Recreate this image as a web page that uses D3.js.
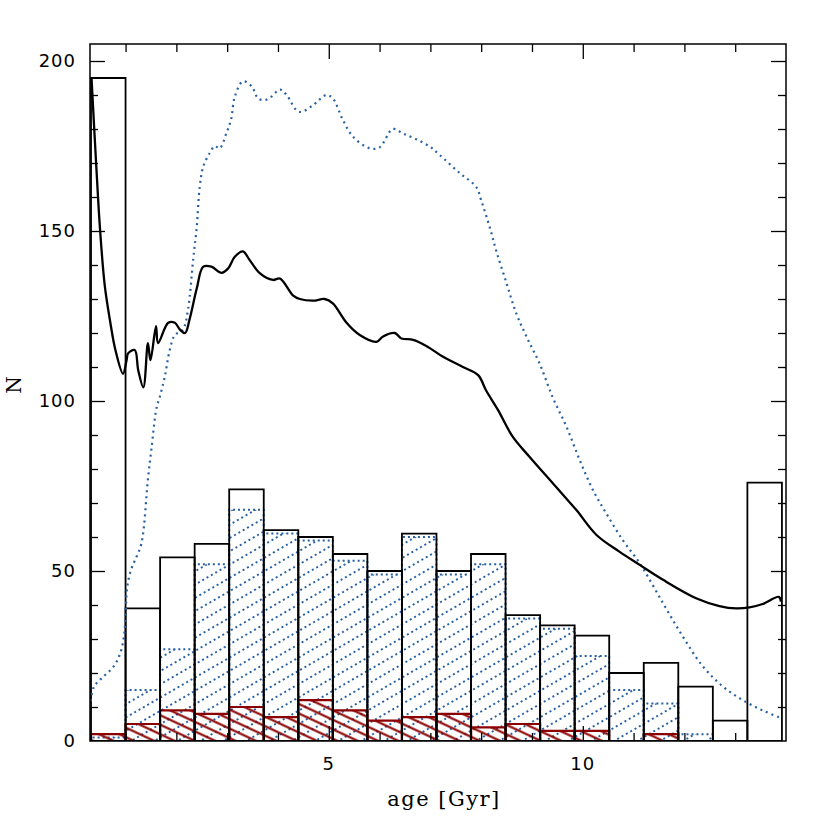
<!DOCTYPE html>
<html>
<head>
<meta charset="utf-8">
<script src="https://cdn.jsdelivr.net/npm/d3@7"></script>
<style>
  body { margin: 0; background: #fff; }
  text { fill: #000; }
</style>
</head>
<body>
<div id="chart"></div>
<script>
// bin edges in Gyr (first bin is cut at the left axis)
const binEdges = [0.32, 1.0, 1.68, 2.36, 3.04, 3.72, 4.40, 5.08, 5.76, 6.44, 7.12,
                  7.80, 8.48, 9.16, 9.84, 10.52, 11.20, 11.88, 12.56, 13.24, 13.92];
const totalCounts = [195, 39, 54, 58, 74, 62, 60, 55, 50, 61, 50, 55, 37, 34, 31, 20, 23, 16, 6, 76];
const blueCounts  = [1, 15, 27, 52, 68, 61, 59, 53, 49, 60, 49, 52, 36, 33, 25, 15, 11, 2, 0, 0];
const redCounts   = [2, 5, 9, 8, 10, 7, 12, 9, 6, 7, 8, 4, 5, 3, 3, 0, 2, 0, 0, 0];

// model curves [age, N]
const blackCurve = [
  [0.33, 195], [0.42, 170], [0.50, 150], [0.59, 134], [0.69, 124], [0.80, 115],
  [0.95, 108], [1.02, 112], [1.05, 114], [1.18, 115], [1.25, 109], [1.35, 104], [1.44, 117],
  [1.49, 112], [1.60, 122], [1.64, 117], [1.84, 123], [1.97, 123], [2.07, 121], [2.17, 120],
  [2.26, 124], [2.40, 133], [2.53, 139.5], [2.69, 139.5], [2.89, 137.7], [3.02, 139],
  [3.15, 142.4], [3.31, 144], [3.44, 141.5], [3.64, 137.6], [3.90, 135.6], [4.04, 136],
  [4.30, 131], [4.43, 130], [4.69, 129.5], [4.92, 130], [5.08, 128.7], [5.35, 123],
  [5.61, 119.4], [5.94, 117.4], [6.07, 119], [6.30, 120], [6.43, 118.4], [6.66, 118],
  [6.92, 116.2], [7.25, 113], [7.64, 110], [7.94, 107.6], [8.10, 103], [8.33, 97.4],
  [8.62, 89.5], [8.95, 83.6], [9.41, 75.8], [9.87, 68], [10.27, 60.6], [10.72, 55.7],
  [11.12, 51.8], [11.58, 47.4], [12.23, 42], [12.69, 39.7], [13.02, 39], [13.28, 39.3],
  [13.54, 40.3], [13.86, 42.4], [13.90, 41]
];
const blueCurve = [
  [0.30, 10], [0.38, 16], [0.57, 19], [0.77, 22], [0.90, 26], [0.97, 31], [1.00, 37],
  [1.03, 45], [1.10, 50], [1.18, 53], [1.31, 58], [1.44, 77], [1.51, 86], [1.61, 98],
  [1.67, 101], [1.77, 107], [1.87, 115], [1.97, 119.4], [2.13, 121], [2.23, 127],
  [2.33, 141.5], [2.40, 151], [2.46, 163], [2.53, 169], [2.66, 173], [2.76, 175],
  [2.85, 174.3], [2.99, 179], [3.08, 183], [3.15, 189.5], [3.31, 194], [3.48, 192.6],
  [3.61, 189], [3.74, 188.5], [3.87, 189.5], [4.04, 191.6], [4.17, 190], [4.36, 185.6],
  [4.46, 185], [4.69, 187], [4.95, 190], [5.08, 189], [5.28, 182.6], [5.48, 177.7],
  [5.81, 174.3], [6.00, 174.6], [6.26, 180], [6.46, 178.7], [6.72, 177], [6.99, 174.8],
  [7.18, 172.4], [7.58, 167], [7.90, 163], [8.00, 159], [8.17, 151], [8.30, 144],
  [8.50, 134.6], [8.69, 125.8], [8.89, 119], [9.15, 111], [9.41, 101], [9.68, 92.4],
  [9.94, 82.6], [10.20, 73.8], [10.46, 67], [10.79, 59], [11.12, 52.3], [11.58, 40.5],
  [11.97, 30.7], [12.36, 22], [12.76, 16], [13.15, 12], [13.54, 9], [13.91, 6.7]
];

const xTicks = [5, 10];
const yTicks = [0, 50, 100, 150, 200];

const blue = "#2760a3";
const red = "#8b0000";

const width = 830, height = 830;
const margin = {top: 44, right: 44, bottom: 89, left: 90};

const svg = d3.select("#chart")
    .append("svg")
    .attr("width", width)
    .attr("height", height);

const x = d3.scaleLinear().domain([0.3, 14]).range([margin.left, width - margin.right]);
const y = d3.scaleLinear().domain([0, 205]).range([height - margin.bottom, margin.top]);

const defs = svg.append("defs");

defs.append("clipPath").attr("id", "plot-clip")
    .append("rect")
    .attr("x", x.range()[0]).attr("y", y.range()[1])
    .attr("width", x.range()[1] - x.range()[0])
    .attr("height", y.range()[0] - y.range()[1]);

// dotted hatch rising to the right
const bluePat = defs.append("pattern")
    .attr("id", "blue-hatch")
    .attr("patternUnits", "userSpaceOnUse")
    .attr("width", 40).attr("height", 11.5)
    .attr("patternTransform", "rotate(-30)");
bluePat.append("line")
    .attr("x1", 0).attr("y1", 5.75).attr("x2", 40).attr("y2", 5.75)
    .attr("stroke", blue).attr("stroke-width", 2)
    .attr("stroke-dasharray", "2 3");

// solid hatch falling to the right
const redPat = defs.append("pattern")
    .attr("id", "red-hatch")
    .attr("patternUnits", "userSpaceOnUse")
    .attr("width", 20).attr("height", 8.6)
    .attr("patternTransform", "rotate(25)");
redPat.append("line")
    .attr("x1", 0).attr("y1", 4.3).attr("x2", 20).attr("y2", 4.3)
    .attr("stroke", red).attr("stroke-width", 2.1);

function binPath(d, i) {
    const x0 = x(binEdges[i]), x1 = x(binEdges[i + 1]);
    return `M${x0},${y(0)}L${x0},${y(d)}L${x1},${y(d)}L${x1},${y(0)}Z`;
}

const plot = svg.append("g").attr("clip-path", "url(#plot-clip)");

// blue histogram
plot.append("g").selectAll("path")
    .data(blueCounts)
    .enter()
    .append("path")
    .attr("d", binPath)
    .attr("fill", d => d > 0 ? "url(#blue-hatch)" : "none")
    .attr("stroke", blue)
    .attr("stroke-width", 2)
    .attr("stroke-dasharray", "2 3");

// red histogram
plot.append("g").selectAll("path")
    .data(redCounts)
    .enter()
    .append("path")
    .attr("d", binPath)
    .attr("fill", "url(#red-hatch)")
    .attr("stroke", red)
    .attr("stroke-width", 2.2);

// total histogram
plot.append("g").selectAll("path")
    .data(totalCounts)
    .enter()
    .append("path")
    .attr("d", binPath)
    .attr("fill", "none")
    .attr("stroke", "#000")
    .attr("stroke-width", 1.8);

const line = d3.line()
    .x(d => x(d[0]))
    .y(d => y(d[1]))
    .curve(d3.curveCatmullRom.alpha(0.5));

plot.append("path")
    .datum(blueCurve)
    .attr("d", line)
    .attr("fill", "none")
    .attr("stroke", blue)
    .attr("stroke-width", 2.2)
    .attr("stroke-dasharray", "2 4");

plot.append("path")
    .datum(blackCurve)
    .attr("d", line)
    .attr("fill", "none")
    .attr("stroke", "#000")
    .attr("stroke-width", 2.3);

// frame and ticks (inward, on all four sides)
svg.append("rect")
    .attr("x", x.range()[0]).attr("y", y.range()[1])
    .attr("width", x.range()[1] - x.range()[0])
    .attr("height", y.range()[0] - y.range()[1])
    .attr("fill", "none")
    .attr("stroke", "#000")
    .attr("stroke-width", 1.5);

const tickFmt = () => "";
const axes = [
    d3.axisBottom(x).tickValues(d3.range(1, 14, 1)),
    d3.axisTop(x).tickValues(d3.range(1, 14, 1)),
    d3.axisLeft(y).tickValues(d3.range(10, 201, 10)),
    d3.axisRight(y).tickValues(d3.range(10, 201, 10))
];
const pos = [
    `translate(0,${y(0)})`, `translate(0,${y.range()[1]})`,
    `translate(${x.range()[0]},0)`, `translate(${x.range()[1]},0)`
];
axes.forEach((ax, k) => {
    const g = svg.append("g")
        .attr("transform", pos[k])
        .call(ax.tickFormat(tickFmt).tickSizeOuter(0));
    g.select(".domain").remove();
    g.selectAll(".tick line")
        .attr("stroke", "#000")
        .attr("stroke-width", 1.3)
        .each(function(d) {
            const major = k < 2 ? d % 5 === 0 : d % 50 === 0;
            const len = major ? 15 : 8;
            const el = d3.select(this);
            if (k === 0) el.attr("y2", -len);
            if (k === 1) el.attr("y2", len);
            if (k === 2) el.attr("x2", len);
            if (k === 3) el.attr("x2", -len);
        });
});

svg.append("g").selectAll("text")
    .data(xTicks)
    .enter()
    .append("text")
    .attr("x", d => x(d))
    .attr("y", y(0) + 29)
    .attr("text-anchor", "middle")
    .style("font-family", "DejaVu Sans")
    .style("font-size", "18px")
    .style("letter-spacing", "1px")
    .text(d => d);

svg.append("g").selectAll("text")
    .data(yTicks)
    .enter()
    .append("text")
    .attr("x", x.range()[0] - 14)
    .attr("y", d => y(d))
    .attr("dy", "0.36em")
    .attr("text-anchor", "end")
    .style("font-family", "DejaVu Sans")
    .style("font-size", "18px")
    .style("letter-spacing", "1px")
    .text(d => d);

svg.append("text")
    .attr("x", (x.range()[0] + x.range()[1]) / 2 + 6)
    .attr("y", 806)
    .attr("text-anchor", "middle")
    .style("font-family", "DejaVu Serif")
    .style("font-size", "21px")
    .style("letter-spacing", "1.5px")
    .text("age [Gyr]");

svg.append("text")
    .attr("transform", "translate(21,385) rotate(-90)")
    .attr("text-anchor", "middle")
    .style("font-family", "DejaVu Serif")
    .style("font-size", "20px")
    .text("N");
</script>
</body>
</html>
